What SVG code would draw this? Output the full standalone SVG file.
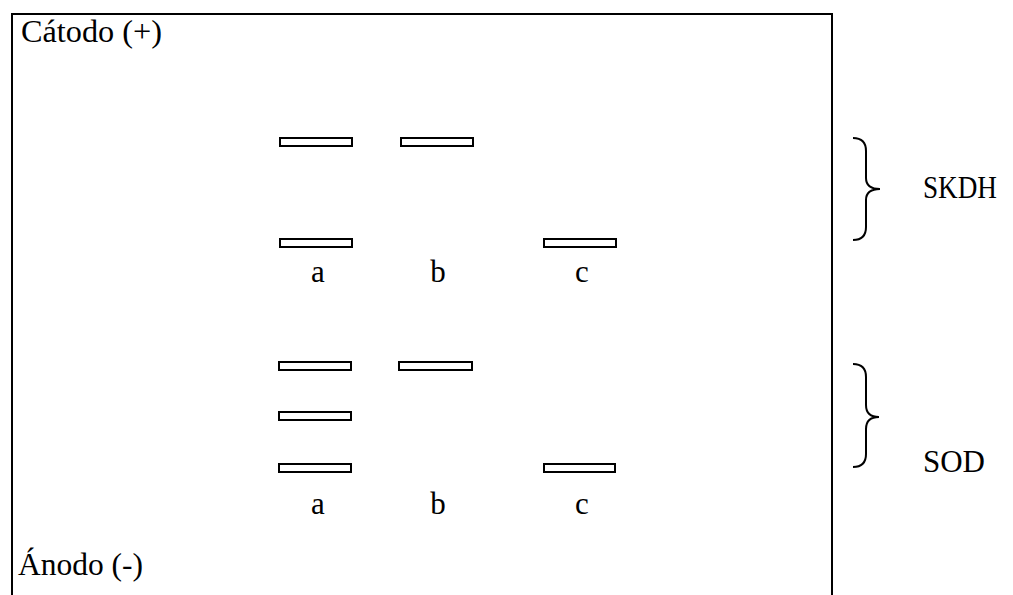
<svg xmlns="http://www.w3.org/2000/svg" width="1013" height="595" viewBox="0 0 1013 595">
<style>
text{font-family:'Liberation Serif','Times New Roman','DejaVu Serif',serif;font-size:31px;fill:#000}
.bar{fill:#fff;stroke:#000;stroke-width:2}
.br{fill:none;stroke:#000;stroke-width:2}
</style>
<rect width="1013" height="595" fill="#fff"/>
<g id="frame">
<path d="M12,595 V14 H832 V595" fill="none" stroke="#000" stroke-width="2"/>
<text x="21" y="42" textLength="141" lengthAdjust="spacingAndGlyphs">Cátodo (+)</text>
<text x="18" y="575" textLength="125" lengthAdjust="spacingAndGlyphs">Ánodo (-)</text>
</g>
<g id="skdh">
<rect id="skdh-a1" class="bar" x="280" y="138" width="72" height="8"/>
<rect id="skdh-b1" class="bar" x="401" y="138" width="72" height="8"/>
<rect id="skdh-a2" class="bar" x="280" y="239" width="72" height="8"/>
<rect id="skdh-c2" class="bar" x="544" y="239" width="72" height="8"/>
<text x="318" y="282" text-anchor="middle">a</text>
<text x="438" y="282" text-anchor="middle">b</text>
<text x="582" y="282" text-anchor="middle">c</text>
</g>
<g id="sod">
<rect id="sod-a1" class="bar" x="279" y="362" width="72" height="8"/>
<rect id="sod-b1" class="bar" x="399" y="362" width="73" height="8"/>
<rect id="sod-a2" class="bar" x="279" y="412" width="72" height="8"/>
<rect id="sod-a3" class="bar" x="279" y="464" width="72" height="8"/>
<rect id="sod-c3" class="bar" x="544" y="464" width="71" height="8"/>
<text x="318" y="514" text-anchor="middle">a</text>
<text x="438" y="514" text-anchor="middle">b</text>
<text x="582" y="514" text-anchor="middle">c</text>
</g>
<g id="connectors">
<path class="br" d="M853,138 Q866,138 866,151 L866,178 Q866,189 880,189 Q866,189 866,200 L866,227 Q866,240 853,240"/>
<path class="br" d="M853,364 Q866,364 866,377 L866,405 Q866,417 879,417 Q866,417 866,429 L866,454 Q866,467 853,467"/>
</g>
<g id="labels">
<text x="923" y="198" textLength="74" lengthAdjust="spacingAndGlyphs">SKDH</text>
<text x="923" y="472" textLength="62" lengthAdjust="spacingAndGlyphs">SOD</text>
</g>
</svg>
